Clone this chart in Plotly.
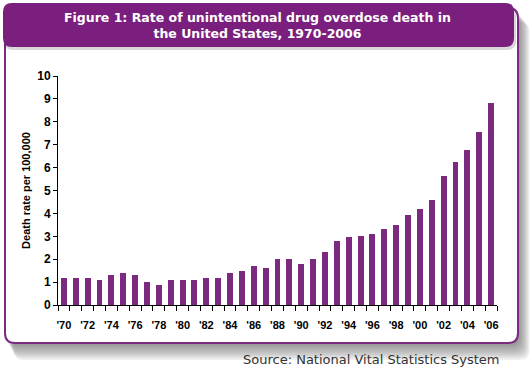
import plotly.graph_objects as go

years = list(range(1970, 2007))
rates = [1.2, 1.2, 1.2, 1.1, 1.3, 1.4, 1.3, 1.0, 0.87, 1.1,
         1.1, 1.1, 1.2, 1.2, 1.4, 1.5, 1.7, 1.6, 2.0, 2.0,
         1.8, 2.0, 2.3, 2.8, 2.95, 3.0, 3.1, 3.3, 3.5, 3.95,
         4.2, 4.6, 5.65, 6.25, 6.75, 7.55, 8.8]
tick_years = years[::2]
tick_labels = ["'" + str(y)[2:] for y in tick_years]

title_text = "Figure 1: Rate of unintentional drug overdose death in<br>the United States, 1970-2006"
source_text = "Source: National Vital Statistics System"
y_title = "Death rate per 100,000"

W, H = 531, 372
PURPLE = "#7b2a7f"
HEADER = "#7a1f7e"


def px(x):
    return x / W


def py(y):
    return 1 - y / H


def rrect(x0, y0, x1, y1, r):
    return (f"M {px(x0 + r)},{py(y0)} L {px(x1 - r)},{py(y0)} "
            f"Q {px(x1)},{py(y0)} {px(x1)},{py(y0 + r)} "
            f"L {px(x1)},{py(y1 - r)} Q {px(x1)},{py(y1)} {px(x1 - r)},{py(y1)} "
            f"L {px(x0 + r)},{py(y1)} Q {px(x0)},{py(y1)} {px(x0)},{py(y1 - r)} "
            f"L {px(x0)},{py(y0 + r)} Q {px(x0)},{py(y0)} {px(x0 + r)},{py(y0)} Z")


shapes = []
# soft shadow
for i in range(1, 10):
    shapes.append(dict(type="path", xref="paper", yref="paper", layer="below",
                       path=rrect(5 + i, 8 + i * 1.6, 518 + i * 1.3, 343 + i * 1.9, 10),
                       fillcolor="rgba(60,60,60,0.08)", line=dict(width=0)))
# white box with purple border
shapes.append(dict(type="path", xref="paper", yref="paper", layer="below",
                   path=rrect(5, 8, 518, 343, 10),
                   fillcolor="white", line=dict(color=PURPLE, width=2)))
# header shadow
shapes.append(dict(type="path", xref="paper", yref="paper", layer="below",
                   path=rrect(4, 5, 516, 50, 9),
                   fillcolor="rgba(60,60,60,0.2)", line=dict(width=0)))
# header band
shapes.append(dict(type="path", xref="paper", yref="paper", layer="below",
                   path=rrect(3, 3, 514, 47, 9),
                   fillcolor=HEADER, line=dict(width=0)))

fig = go.Figure()
fig.add_trace(go.Bar(x=years, y=rates, width=0.5,
                     marker=dict(color=PURPLE, line=dict(width=0))))

fig.update_layout(
    width=W, height=H,
    margin=dict(l=0, r=0, t=0, b=0),
    paper_bgcolor="white",
    plot_bgcolor="rgba(0,0,0,0)",
    showlegend=False,
    shapes=shapes,
    bargap=0,
    xaxis=dict(
        domain=[px(58), px(497)],
        range=[1969.5, 2006.5],
        tickmode="array", tickvals=tick_years, ticktext=tick_labels,
        ticks="outside", ticklen=10, tickcolor="rgba(0,0,0,0)",
        showgrid=False, zeroline=False,
        showline=True, linecolor="black", linewidth=1,
        tickfont=dict(family="Liberation Sans, Arial, sans-serif", size=11,
                      color="black", weight="bold"),
        minor=dict(tickmode="array", tickvals=[y - 0.5 for y in years] + [years[-1] + 0.5],
                   ticks="outside", ticklen=5, tickcolor="black", tickwidth=1,
                   showgrid=False),
        automargin=False, fixedrange=True,
    ),
    yaxis=dict(
        domain=[py(305), py(76)],
        range=[0, 10], dtick=1, tick0=0,
        ticks="outside", ticklen=4, tickcolor="black",
        showgrid=False, zeroline=False,
        showline=True, linecolor="black", linewidth=1,
        tickfont=dict(family="Liberation Sans, Arial, sans-serif", size=12,
                      color="black", weight="bold"),
        title=dict(text=y_title, standoff=4,
                   font=dict(family="Liberation Sans, Arial, sans-serif", size=11,
                             color="black", weight="bold")),
        automargin=False, fixedrange=True,
    ),
    annotations=[
        dict(text=title_text, xref="paper", yref="paper", x=px(257), y=py(26),
             xanchor="center", yanchor="middle", showarrow=False, align="center",
             font=dict(family="DejaVu Sans, Verdana, sans-serif", size=12.5,
                       color="white", weight="bold")),
        dict(text=source_text, xref="paper", yref="paper", x=px(502), y=py(359),
             xanchor="right", yanchor="middle", showarrow=False,
             font=dict(family="DejaVu Sans, Verdana, sans-serif", size=13,
                       color="#333333")),
    ],
)

fig.write_html("out.html", config={"displayModeBar": False},
               post_script="document.body.style.margin='0';document.body.style.overflow='hidden';")
